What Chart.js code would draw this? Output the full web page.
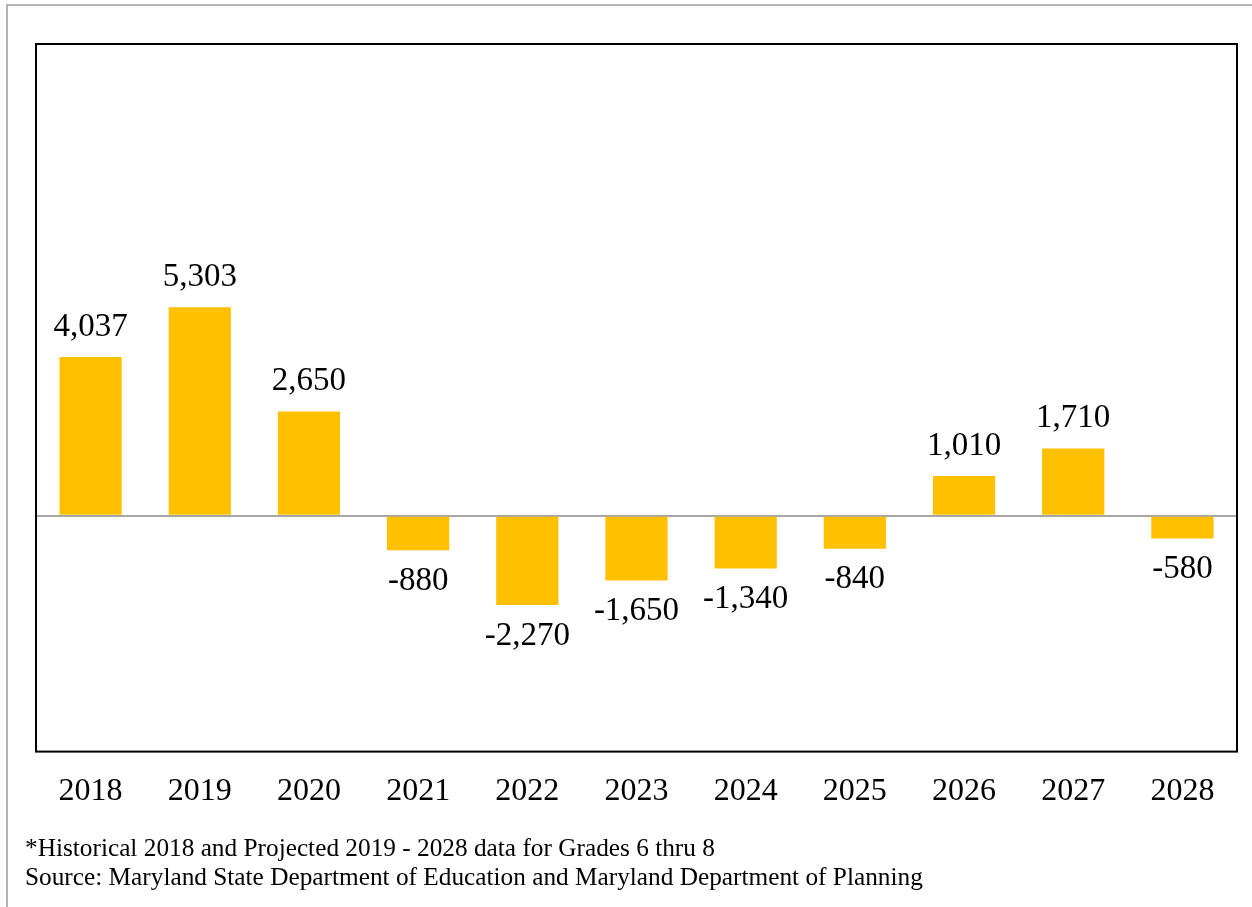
<!DOCTYPE html>
<html>
<head>
<meta charset="utf-8">
<script src="https://cdn.jsdelivr.net/npm/chart.js@4/dist/chart.umd.min.js"></script>
<style>
  html, body { margin: 0; padding: 0; background: #fff; }
  #wrap { position: relative; width: 1252px; height: 907px; overflow: hidden; }
  #frame { position: absolute; left: 6px; top: 4px; right: -10px; bottom: -10px;
           border-top: 2px solid #b4b4b4; border-left: 2px solid #b4b4b4; }
  #box { position: absolute; left: 0; top: 0; width: 1252px; height: 907px; }
  .note { position: absolute; left: 25px; font-family: "Liberation Serif", serif;
          font-size: 25.3px; color: #000; white-space: nowrap; }
</style>
</head>
<body>
<div id="wrap">
  <div id="frame"></div>
  <div id="box"><canvas id="grafico"></canvas></div>
  <div class="note" style="top:833px">*Historical 2018 and Projected 2019 - 2028 data for Grades 6 thru 8</div>
  <div class="note" style="top:862px">Source: Maryland State Department of Education and Maryland Department of Planning</div>
</div>
<script>
const anos = ['2018', '2019', '2020', '2021', '2022', '2023', '2024', '2025', '2026', '2027', '2028'];
const variacao = [4037, 5303, 2650, -880, -2270, -1650, -1340, -840, 1010, 1710, -580];

// rotulos de valor acima/abaixo das barras
const rotulos = {
  id: 'rotulos',
  afterDatasetsDraw(chart) {
    const ctx = chart.ctx;
    const meta = chart.getDatasetMeta(0);
    ctx.save();
    ctx.font = '33px "Liberation Serif", serif';
    ctx.fillStyle = '#000';
    ctx.textAlign = 'center';
    ctx.textBaseline = 'middle';
    meta.data.forEach((bar, i) => {
      const v = variacao[i];
      const y = v >= 0 ? bar.y - 30 : bar.y + 31;
      ctx.fillText(v.toLocaleString('en-US'), bar.x, y);
    });
    ctx.restore();
  }
};

// moldura preta da area do grafico
const moldura = {
  id: 'moldura',
  afterDraw(chart) {
    const a = chart.chartArea;
    const ctx = chart.ctx;
    ctx.save();
    ctx.strokeStyle = '#000';
    ctx.lineWidth = 2;
    ctx.strokeRect(a.left, a.top, a.right - a.left, a.bottom - a.top);
    ctx.restore();
  }
};

const ctx = document.getElementById('grafico').getContext('2d');
new Chart(ctx, {
  type: 'bar',
  data: {
    labels: anos,
    datasets: [{
      data: variacao,
      backgroundColor: '#FFC000',
      barPercentage: 0.57,
      categoryPercentage: 1
    }]
  },
  options: {
    responsive: true,
    maintainAspectRatio: false,
    animation: false,
    layout: { padding: { left: 36, top: 44, right: 15, bottom: 83 } },
    plugins: { legend: { display: false }, tooltip: { enabled: false } },
    scales: {
      x: {
        grid: { display: false },
        border: { display: false },
        ticks: {
          color: '#000',
          padding: 13,
          maxRotation: 0,
          font: { family: '"Liberation Serif", serif', size: 32 }
        }
      },
      y: {
        min: -6000,
        max: 12000,
        ticks: { display: false, stepSize: 2000 },
        border: { display: false },
        grid: {
          drawTicks: false,
          color: c => c.tick && c.tick.value === 0 ? '#a6a6a6' : 'rgba(0,0,0,0)',
          lineWidth: 2
        }
      }
    }
  },
  plugins: [rotulos, moldura]
});
</script>
</body>
</html>
